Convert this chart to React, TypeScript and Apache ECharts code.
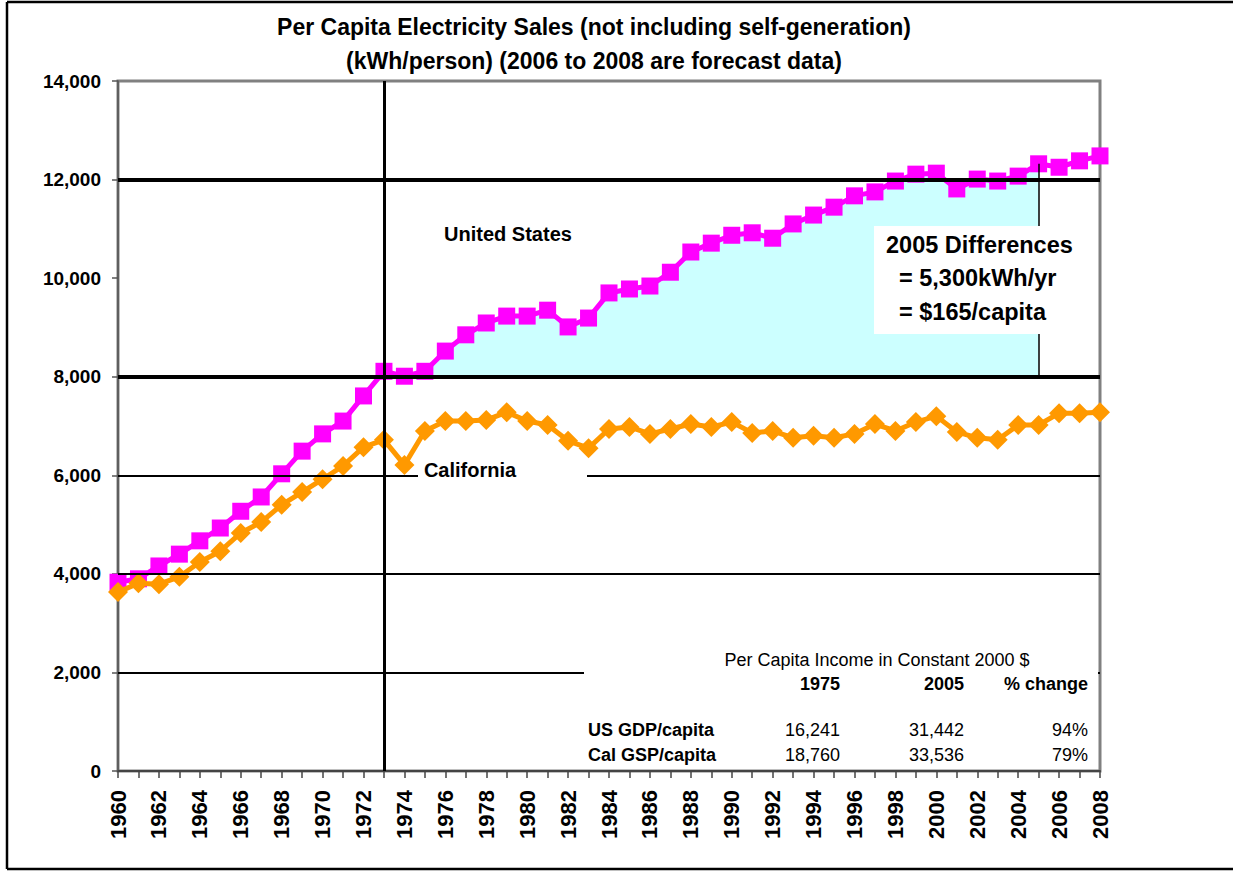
import React, { useEffect, useRef } from "react";
import * as echarts from "echarts";

const years: number[] = [];
for (let y = 1960; y <= 2008; y++) years.push(y);

const usValues = [
  3830, 3900, 4160, 4400, 4670, 4930, 5270, 5560, 6030, 6490,
  6840, 7100, 7610, 8110, 8010, 8110, 8520, 8850, 9090, 9230,
  9230, 9350, 9010, 9190, 9700, 9780, 9840, 10120, 10530, 10710,
  10870, 10920, 10810, 11100, 11280, 11440, 11670, 11750, 11970, 12110,
  12130, 11810, 12010, 11970, 12070, 12320, 12250, 12380, 12480,
];

const caValues = [
  3630, 3810, 3790, 3940, 4240, 4460, 4830, 5050, 5400, 5660,
  5920, 6190, 6570, 6720, 6210, 6900, 7100, 7100, 7120, 7280,
  7100, 7020, 6700, 6550, 6940, 6980, 6840, 6940, 7040, 6980,
  7080, 6860, 6900, 6760, 6800, 6760, 6840, 7040, 6900, 7080,
  7200, 6880, 6760, 6720, 7020, 7020, 7260, 7260, 7280,
];

const thinGridValues = [2000, 4000, 6000];
const thickGridValues = [8000, 12000];
const oilShockYear = 1973;
const diffYear = 2005;
const fillStartYear = 1974;
const fillBase = 8000;

const titleLines = [
  "Per Capita Electricity Sales (not including self-generation)",
  "(kWh/person) (2006 to 2008 are forecast data)",
];
const diffLines = ["2005 Differences", "= 5,300kWh/yr", "= $165/capita"];
const tableTitle = "Per Capita Income in Constant 2000 $";
const tableHeaders = ["1975", "2005", "% change"];
const tableRowLabels = ["US GDP/capita", "Cal GSP/capita"];
const tableRows = [
  ["16,241", "31,442", "94%"],
  ["18,760", "33,536", "79%"],
];

const FONT = "'Liberation Sans', Arial, sans-serif";

function txt(text: string, x: number, y: number, size: number, bold: boolean, align: string) {
  return {
    type: "text",
    x,
    y,
    z: 20,
    style: {
      text,
      fill: "#000",
      fontSize: size,
      fontWeight: bold ? "bold" : "normal",
      fontFamily: FONT,
      align,
      textAlign: align,
      verticalAlign: "middle",
      textVerticalAlign: "middle",
    },
  };
}

function frameLine(x1: number, y1: number, x2: number, y2: number) {
  return {
    type: "line",
    z: 0,
    shape: { x1, y1, x2, y2 },
    style: { stroke: "#000", lineWidth: 2.5 },
  };
}

export default function App() {
  const ref = useRef<HTMLDivElement>(null);
  useEffect(() => {
    if (!ref.current) return;
    const chart = echarts.init(ref.current, undefined, { renderer: "svg" });
    const usData = years.map((y, i) => [y, usValues[i]]);
    const caData = years.map((y, i) => [y, caValues[i]]);
    const fillData = years
      .map((y, i) => [y, usValues[i]])
      .filter((d) => d[0] >= fillStartYear && d[0] <= diffYear);
    const us2005 = usValues[years.indexOf(diffYear)];

    const markData: any[] = [];
    thinGridValues.forEach((v) =>
      markData.push({ yAxis: v, lineStyle: { width: 2, color: "#000", type: "solid" } })
    );
    thickGridValues.forEach((v) =>
      markData.push({ yAxis: v, lineStyle: { width: 4, color: "#000", type: "solid" } })
    );
    markData.push({ xAxis: oilShockYear, lineStyle: { width: 3, color: "#000", type: "solid" } });
    markData.push([
      { coord: [diffYear, fillBase], lineStyle: { width: 1.5, color: "#000", type: "solid" } },
      { coord: [diffYear, us2005] },
    ]);

    const graphics: any[] = [
      frameLine(7, 2, 1233, 2),
      frameLine(7, 2, 7, 869),
      frameLine(7, 869, 1233, 869),
      // white boxes
      { type: "rect", z: 15, shape: { x: 584, y: 640, width: 514, height: 129 }, style: { fill: "#fff" } },
      { type: "rect", z: 15, shape: { x: 418, y: 457, width: 169, height: 26 }, style: { fill: "#fff" } },
      { type: "rect", z: 15, shape: { x: 874, y: 226, width: 212, height: 108 }, style: { fill: "#fff" } },
      txt(titleLines[0], 594, 27, 23, true, "center"),
      txt(titleLines[1], 594, 61, 23, true, "center"),
      txt("United States", 508, 234, 20, true, "center"),
      txt("California", 470, 470, 20, true, "center"),
      txt(diffLines[0], 886, 245, 23.5, true, "left"),
      txt(diffLines[1], 899, 278, 23.5, true, "left"),
      txt(diffLines[2], 899, 312, 23.5, true, "left"),
      txt(tableTitle, 877, 660, 18, false, "center"),
      txt(tableHeaders[0], 840, 684, 18, true, "right"),
      txt(tableHeaders[1], 964, 684, 18, true, "right"),
      txt(tableHeaders[2], 1088, 684, 18, true, "right"),
      txt(tableRowLabels[0], 588, 730, 18, true, "left"),
      txt(tableRowLabels[1], 588, 755, 18, true, "left"),
      txt(tableRows[0][0], 840, 730, 18, false, "right"),
      txt(tableRows[0][1], 964, 730, 18, false, "right"),
      txt(tableRows[0][2], 1088, 730, 18, false, "right"),
      txt(tableRows[1][0], 840, 755, 18, false, "right"),
      txt(tableRows[1][1], 964, 755, 18, false, "right"),
      txt(tableRows[1][2], 1088, 755, 18, false, "right"),
    ];

    chart.setOption({
      animation: false,
      backgroundColor: "#fff",
      grid: {
        left: 118,
        top: 81,
        width: 982,
        height: 690,
        show: true,
        borderColor: "#808080",
        borderWidth: 3,
        backgroundColor: "transparent",
      },
      xAxis: {
        type: "value",
        min: 1960,
        max: 2008,
        interval: 1,
        splitLine: { show: false },
        axisLine: { show: true, lineStyle: { color: "#444", width: 2 } },
        axisTick: { show: true, length: 7, lineStyle: { color: "#444", width: 1.5 } },
        axisLabel: {
          rotate: 90,
          margin: 19,
          color: "#000",
          fontSize: 22,
          fontWeight: "bold",
          fontFamily: FONT,
          formatter: (v: number) => (v % 2 === 0 ? String(v) : ""),
        },
      },
      yAxis: {
        type: "value",
        min: 0,
        max: 14000,
        interval: 2000,
        splitLine: { show: false },
        axisLine: { show: true, lineStyle: { color: "#555", width: 1.5 } },
        axisTick: { show: true, length: 6, lineStyle: { color: "#555", width: 1.5 } },
        axisLabel: {
          margin: 17,
          color: "#000",
          fontSize: 19,
          fontWeight: "bold",
          fontFamily: FONT,
          formatter: (v: number) => v.toLocaleString("en-US"),
        },
      },
      graphic: graphics,
      series: [
        {
          type: "line",
          name: "fill",
          data: fillData,
          z: 1,
          silent: true,
          showSymbol: false,
          symbol: "none",
          lineStyle: { width: 0, opacity: 0 },
          areaStyle: { color: "#CCFFFF", opacity: 1, origin: fillBase },
        },
        {
          type: "line",
          name: "United States",
          data: usData,
          z: 3,
          symbol: "rect",
          symbolSize: 17,
          lineStyle: { color: "#FF00FF", width: 5 },
          itemStyle: { color: "#FF00FF" },
        },
        {
          type: "line",
          name: "California",
          data: caData,
          z: 4,
          symbol: "diamond",
          symbolSize: 20,
          lineStyle: { color: "#FF9900", width: 5 },
          itemStyle: { color: "#FF9900" },
        },
        {
          type: "line",
          name: "lines",
          data: usData,
          z: 6,
          silent: true,
          showSymbol: false,
          symbol: "none",
          lineStyle: { opacity: 0, width: 0 },
          markLine: {
            silent: true,
            symbol: ["none", "none"],
            label: { show: false },
            data: markData,
          },
        },
      ],
    });
    return () => chart.dispose();
  }, []);
  return (
    <div
      ref={ref}
      style={{ position: "fixed", left: 0, top: 0, width: 1233, height: 871 }}
    />
  );
}
